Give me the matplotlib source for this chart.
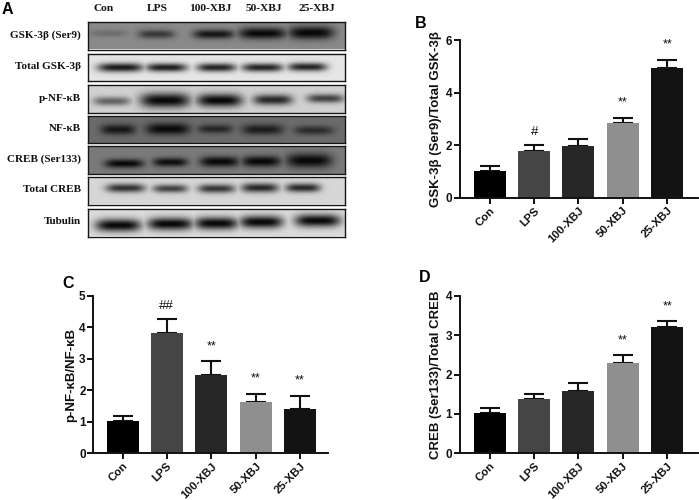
import numpy as np
import matplotlib
matplotlib.use("Agg")
import matplotlib.pyplot as plt

W, H = 699, 500

groups = ["Con", "LPS", "100-XBJ", "50-XBJ", "25-XBJ"]
bar_colors = ["#000000", "#454545", "#272727", "#8f8f8f", "#131313"]

b_values = [1.03, 1.78, 1.95, 2.83, 4.94]
b_errors = [0.18, 0.22, 0.28, 0.22, 0.31]
b_marks = ["", "#", "", "**", "**"]
c_values = [1.03, 3.83, 2.50, 1.63, 1.42]
c_errors = [0.17, 0.45, 0.43, 0.27, 0.41]
c_marks = ["", "##", "**", "**", "**"]
d_values = [1.03, 1.39, 1.59, 2.30, 3.20]
d_errors = [0.11, 0.11, 0.21, 0.20, 0.16]
d_marks = ["", "", "", "**", "**"]

blot_labels = ["GSK-3β (Ser9)", "Total GSK-3β", "p-NF-κB", "NF-κB",
               "CREB (Ser133)", "Total CREB", "Tubulin"]
blot_background = [0.54, 0.90, 0.82, 0.42, 0.48, 0.84, 0.86]
# Band x centre within the blot (0-1), per lane
blot_centres = [
    [0.08, 0.265, 0.49, 0.68, 0.87],
    [0.125, 0.305, 0.50, 0.68, 0.855],
    [0.092, 0.30, 0.512, 0.72, 0.925],
    [0.117, 0.31, 0.495, 0.68, 0.88],
    [0.14, 0.32, 0.512, 0.675, 0.862],
    [0.145, 0.32, 0.50, 0.67, 0.838],
    [0.117, 0.32, 0.50, 0.675, 0.895],
]
# Band width (fraction of blot), per lane
blot_widths = [
    [0.085, 0.085, 0.095, 0.11, 0.105],
    [0.105, 0.095, 0.09, 0.095, 0.09],
    [0.085, 0.115, 0.105, 0.09, 0.085],
    [0.08, 0.10, 0.08, 0.095, 0.09],
    [0.09, 0.08, 0.09, 0.09, 0.105],
    [0.09, 0.08, 0.085, 0.085, 0.08],
    [0.105, 0.105, 0.10, 0.10, 0.105],
]
# Band darkness (0-1), per lane
blot_strengths = [
    [0.22, 0.62, 0.90, 1.0, 1.0],
    [0.92, 0.90, 0.88, 0.88, 0.88],
    [0.55, 1.0, 1.0, 0.85, 0.72],
    [0.85, 1.0, 0.70, 0.80, 0.65],
    [1.0, 0.95, 1.0, 1.0, 1.0],
    [0.80, 0.72, 0.78, 0.85, 0.85],
    [1.0, 1.0, 1.0, 1.0, 1.0],
]
# Band thickness (fraction of blot height), per lane
blot_heights = [
    [0.13, 0.16, 0.17, 0.21, 0.24],
    [0.17, 0.16, 0.16, 0.16, 0.16],
    [0.16, 0.27, 0.24, 0.19, 0.16],
    [0.19, 0.21, 0.16, 0.19, 0.16],
    [0.16, 0.16, 0.19, 0.20, 0.26],
    [0.16, 0.15, 0.16, 0.17, 0.16],
    [0.23, 0.23, 0.23, 0.23, 0.23],
]
# Band y centre within the blot (0 top - 1 bottom), per lane
blot_rows = [
    [0.44, 0.47, 0.47, 0.44, 0.42],
    [0.50, 0.50, 0.50, 0.50, 0.48],
    [0.58, 0.55, 0.55, 0.53, 0.48],
    [0.52, 0.50, 0.50, 0.52, 0.55],
    [0.63, 0.58, 0.56, 0.55, 0.52],
    [0.43, 0.45, 0.45, 0.42, 0.42],
    [0.62, 0.57, 0.55, 0.50, 0.45],
]
blot_boxes = [(22, 49.5), (54, 81), (85.5, 113), (116, 143.5),
              (146.5, 174), (177, 204.5), (209, 236.5)]
BLOT_LEFT, BLOT_RIGHT = 88, 345
lane_header_x = [104, 157, 210, 264, 317]

serif = ["Liberation Serif", "DejaVu Serif"]
sans = ["Liberation Sans", "DejaVu Sans"]

fig = plt.figure(figsize=(W / 100, H / 100), dpi=100, facecolor="white")


def px_axes(left, top, right, bottom):
    return fig.add_axes([left / W, 1 - bottom / H, (right - left) / W, (bottom - top) / H])


def panel_text(x, y, s):
    fig.text(x / W, 1 - y / H, s, family=sans, weight="bold", fontsize=11.5,
             ha="left", va="center", color="black")


for i, (top, bottom) in enumerate(blot_boxes):
    ax = px_axes(BLOT_LEFT, top, BLOT_RIGHT, bottom)
    yy, xx = np.mgrid[0:1:60j, 0:1:300j]
    img = np.full(xx.shape, blot_background[i], dtype=float)
    dark = np.zeros_like(img)
    for cx, w, s, h, cy in zip(blot_centres[i], blot_widths[i], blot_strengths[i],
                               blot_heights[i], blot_rows[i]):
        r = (np.abs(xx - cx) / (w * 0.85)) ** 4 + (np.abs(yy - cy) / h) ** 2
        dark = np.maximum(dark, s * np.exp(-r))
    img = img * (1 - dark) + 0.03 * dark
    ax.imshow(img, cmap="gray", vmin=0, vmax=1, aspect="auto", extent=(0, 1, 1, 0),
              interpolation="bilinear")
    ax.set_xticks([])
    ax.set_yticks([])
    for sp in ax.spines.values():
        sp.set_linewidth(1.0)
        sp.set_color("#151515")
    fig.text(81 / W, 1 - ((top + bottom) / 2 - 1) / H, blot_labels[i], family=serif,
             weight="bold", fontsize=8, ha="right", va="center", color="#111111")

for x, g in zip(lane_header_x, groups):
    fig.text(x / W, 1 - 8.5 / H, g, family=serif, weight="bold", fontsize=8.2,
             ha="center", va="center", color="#111111")

panel_text(1.5, 9, "A")
panel_text(415, 24, "B")
panel_text(62.5, 283, "C")
panel_text(419, 277, "D")


def bar_panel(box, centres, vals, errs, marks, ymax, ticks, ylabel, label_x):
    left, top, right, bottom = box
    ax = px_axes(left, top, right, bottom)
    ax.set_xlim(left, right)
    ax.set_ylim(0, ymax)
    ax.patch.set_alpha(0)
    ax.bar(centres, vals, width=32, color=bar_colors, zorder=2)
    ax.errorbar(centres, vals, yerr=[np.zeros(5), errs], fmt="none", ecolor="#111111",
                elinewidth=1.5, capsize=7.5, capthick=1.5, zorder=1)
    px_per_unit = (bottom - top) / ymax
    for c, v, e, m in zip(centres, vals, errs, marks):
        if m:
            star = m.startswith("*")
            gap = (15 if star else 13) / px_per_unit
            ax.text(c, v + e + gap, m, ha="center", va="center",
                    fontsize=9 if star else 9.5, family=sans, color="#111111", clip_on=False)
    for s in ("top", "right"):
        ax.spines[s].set_visible(False)
    for s in ("left", "bottom"):
        ax.spines[s].set_linewidth(1.4)
        ax.spines[s].set_color("#111111")
    ax.set_yticks(ticks)
    ax.set_xticks(centres)
    ax.set_xticklabels(groups, rotation=45, ha="right", rotation_mode="anchor")
    ax.tick_params(axis="y", length=4.5, width=1.4, color="#111111", pad=1)
    ax.tick_params(axis="x", length=4.5, width=1.4, color="#111111", pad=1)
    for t in ax.get_xticklabels() + ax.get_yticklabels():
        t.set_family(sans)
        t.set_weight("bold")
        t.set_color("#111111")
    for t in ax.get_xticklabels():
        t.set_fontsize(8.2)
    for t in ax.get_yticklabels():
        t.set_fontsize(8.5)
    fig.text(label_x / W, 1 - (top + bottom) / 2 / H, ylabel, family=sans, weight="bold",
             fontsize=9.5, rotation=90, ha="center", va="center", color="#111111")


cent_r = [489.7, 534.3, 578.3, 622.7, 667.3]
cent_c = [122.7, 166.7, 211.3, 256, 300]
bar_panel((460, 40, 698, 197.7), cent_r, b_values, b_errors, b_marks, 6, [0, 2, 4, 6],
          "GSK-3β (Ser9)/Total GSK-3β", 436)
bar_panel((93.3, 296, 328, 453.3), cent_c, c_values, c_errors, c_marks, 5, [0, 1, 2, 3, 4, 5],
          "p-NF-κB/NF-κB", 71)
bar_panel((460, 296, 698, 453.3), cent_r, d_values, d_errors, d_marks, 4, [0, 1, 2, 3, 4],
          "CREB (Ser133)/Total CREB", 436)

fig.savefig("out.png", dpi=100, facecolor="white")
